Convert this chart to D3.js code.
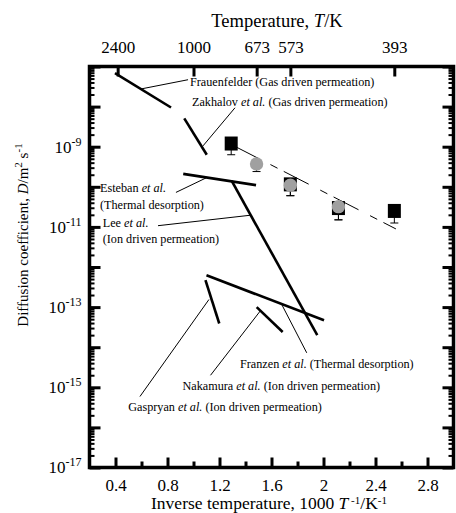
<!DOCTYPE html>
<html>
<head>
<meta charset="utf-8">
<script src="https://cdn.jsdelivr.net/npm/d3@7"></script>
<style>
  body { margin: 0; background: #fff; }
  svg text { font-family: "Liberation Serif", "DejaVu Serif", serif; fill: #000; }
</style>
</head>
<body>
<div id="chart"></div>
<script>
// literature lines, end points as [1000/T, D]
const lineNames = ["Frauenfelder", "Zakhalov", "Esteban", "Lee", "Franzen", "Gaspryan", "Nakamura"];
const lineX = [[0.396, 0.827], [0.929, 1.102], [0.921, 1.481], [1.294, 1.952], [1.100, 2.004], [1.092, 1.198], [1.486, 1.686]];
const lineD = [[6.8e-8, 9.5e-9], [5.1e-9, 6.3e-10], [2.1e-10, 1.1e-10], [1.4e-10, 2.0e-14], [6.2e-13, 4.7e-14], [4.7e-13, 3.9e-14], [1.0e-13, 2.4e-14]];

// this work: squares and circles, with lower error bound
const squareX = [1.29, 1.745, 2.115, 2.545];
const squareD = [1.2e-9, 1.15e-10, 2.95e-11, 2.5e-11];
const squareLo = [6.3e-10, 6.0e-11, 1.5e-11, 1.25e-11];
const circleX = [1.485, 1.745, 2.115];
const circleD = [3.7e-10, 1.1e-10, 3.2e-11];
const circleLo = [2.4e-10, 6.0e-11, 1.5e-11];

// dashed fit through the points
const fitX = [1.311, 2.557];
const fitD = [1.05e-9, 8.9e-12];

// axis ticks
const xMajor = [0.4, 0.8, 1.2, 1.6, 2, 2.4, 2.8];
const xMinor = [0.6, 1.0, 1.4, 1.8, 2.2, 2.6];
const tempTicks = [2400, 1000, 673, 573, 393];
const yExp = [-17, -16, -15, -14, -13, -12, -11, -10, -9, -8, -7];

// labels: text parts, anchor [x, log D], leader [x, log D] -> [x, log D]
const notes = [
  {lines: [[["Frauenfelder (Gas driven permeation)", 0]]], at: [0.973, -7.48], from: [0.596, -7.56], to: [0.958, -7.33]},
  {lines: [[["Zakhalov ", 0], ["et al.", 1], [" (Gas driven permeation)", 0]]], at: [0.988, -7.98], from: [1.073, -8.98], to: [1.319, -8.03]},
  {lines: [[["Esteban ", 0], ["et al.", 1]], [["(Thermal desorption)", 0]]], at: [0.281, -10.13], from: [0.865, -10.14], to: [1.096, -9.78]},
  {lines: [[["Lee ", 0], ["et al.", 1]], [["(Ion driven permeation)", 0]]], at: [0.302, -11.0], from: [0.727, -10.97], to: [1.435, -10.71]},
  {lines: [[["Franzen ", 0], ["et al.", 1], [" (Thermal desorption)", 0]]], at: [1.358, -14.51], from: [1.678, -12.93], to: [1.871, -14.14]},
  {lines: [[["Nakamura ", 0], ["et al.", 1], [" (Ion driven permeation)", 0]]], at: [0.915, -15.06], from: [1.131, -14.70], to: [1.515, -13.09]},
  {lines: [[["Gaspryan ", 0], ["et al.", 1], [" (Ion driven permeation)", 0]]], at: [0.498, -15.59], from: [0.588, -15.23], to: [1.119, -12.81]}
];

const width = 456, height = 513,
  margin = {top: 66.5, right: 2.5, bottom: 45.5, left: 89.5};

const svg = d3.select("#chart")
  .append("svg")
  .attr("width", width)
  .attr("height", height);

const x = d3.scaleLinear([0.2, 3.0], [margin.left, width - margin.right]);
const y = d3.scaleLog([1e-17, 1e-7], [height - margin.bottom, margin.top]);
const ly = v => y(Math.pow(10, v));

// minor log ticks
let yMinor = [];
yExp.slice(0, -1).forEach(e => { for (let k = 2; k <= 9; k++) yMinor.push(k * Math.pow(10, e)); });
const yMajor = yExp.map(e => Math.pow(10, e));

function styleTicks(g, w) {
  g.attr("font-family", null);
  g.select(".domain").remove();
  g.selectAll(".tick line").attr("stroke", "#000").attr("stroke-width", w);
}

// bottom axis
svg.append("g")
  .attr("transform", `translate(0,${height - margin.bottom})`)
  .call(d3.axisBottom(x).tickValues(xMinor).tickSize(-6).tickFormat(""))
  .call(g => styleTicks(g, 3));
svg.append("g")
  .attr("transform", `translate(0,${height - margin.bottom})`)
  .call(d3.axisBottom(x).tickValues(xMajor).tickSize(-10).tickPadding(11).tickFormat(d3.format("")))
  .call(g => styleTicks(g, 3))
  .call(g => g.selectAll(".tick text").attr("font-size", 17));

// top axis in temperature
svg.append("g")
  .attr("transform", `translate(0,${margin.top})`)
  .call(d3.axisTop(x).tickValues(tempTicks.map(t => 1000 / t)).tickSize(-10).tickPadding(14)
    .tickFormat((d, i) => tempTicks[i]))
  .call(g => styleTicks(g, 3))
  .call(g => g.selectAll(".tick text").attr("font-size", 17));

// left and right log axes
[[d3.axisLeft, margin.left], [d3.axisRight, width - margin.right]].forEach(([ax, pos], side) => {
  svg.append("g")
    .attr("transform", `translate(${pos},0)`)
    .call(ax(y).tickValues(yMinor).tickSize(-5).tickFormat(""))
    .call(g => styleTicks(g, 2));
  const gM = svg.append("g")
    .attr("transform", `translate(${pos},0)`)
    .call(ax(y).tickValues(yMajor).tickSize(-11).tickPadding(8).tickFormat(""))
    .call(g => styleTicks(g, 3));
  if (side === 0) {
    gM.selectAll(".tick text").each(function(d) {
      const e = Math.round(Math.log10(d));
      if (e % 2 === 0 || e === -7) return;
      const t = d3.select(this).attr("font-size", 17);
      t.append("tspan").text("10");
      t.append("tspan").attr("dy", -7).attr("font-size", 12).text(e);
    });
  }
});

// frame
svg.append("rect")
  .attr("x", margin.left)
  .attr("y", margin.top)
  .attr("width", width - margin.left - margin.right)
  .attr("height", height - margin.top - margin.bottom)
  .attr("fill", "none")
  .attr("stroke", "#000")
  .attr("stroke-width", 3.5);

// literature lines
svg.append("g")
  .selectAll("line")
  .data(lineNames)
  .join("line")
  .attr("x1", (d, i) => x(lineX[i][0]))
  .attr("y1", (d, i) => y(lineD[i][0]))
  .attr("x2", (d, i) => x(lineX[i][1]))
  .attr("y2", (d, i) => y(lineD[i][1]))
  .attr("stroke", "#000")
  .attr("stroke-width", 2.6);

// fit line
svg.append("line")
  .attr("x1", x(fitX[0])).attr("y1", y(fitD[0]))
  .attr("x2", x(fitX[1])).attr("y2", y(fitD[1]))
  .attr("stroke", "#000")
  .attr("stroke-width", 1)
  .attr("stroke-dasharray", "28,13,8,7");

// error bars
function errBars(xs, ds, lo) {
  const g = svg.append("g").attr("stroke", "#000").attr("stroke-width", 1);
  g.selectAll("line.v").data(xs).join("line")
    .attr("x1", d => x(d)).attr("x2", d => x(d))
    .attr("y1", (d, i) => y(ds[i])).attr("y2", (d, i) => y(lo[i]));
  g.selectAll("line.c").data(xs).join("line")
    .attr("x1", d => x(d) - 4).attr("x2", d => x(d) + 4)
    .attr("y1", (d, i) => y(lo[i])).attr("y2", (d, i) => y(lo[i]));
}
errBars(squareX, squareD, squareLo);
errBars(circleX, circleD, circleLo);

svg.append("g")
  .selectAll("rect")
  .data(squareX)
  .join("rect")
  .attr("x", d => x(d) - 6.5)
  .attr("y", (d, i) => y(squareD[i]) - 7)
  .attr("width", 13)
  .attr("height", 14)
  .attr("fill", "#000");

svg.append("g")
  .selectAll("circle")
  .data(circleX)
  .join("circle")
  .attr("cx", d => x(d))
  .attr("cy", (d, i) => y(circleD[i]))
  .attr("r", 6.7)
  .attr("fill", "#a0a0a0");

// annotations
const ann = svg.append("g");
notes.forEach(n => {
  ann.append("line")
    .attr("x1", x(n.from[0])).attr("y1", ly(n.from[1]))
    .attr("x2", x(n.to[0])).attr("y2", ly(n.to[1]))
    .attr("stroke", "#000").attr("stroke-width", 1);
  n.lines.forEach((parts, j) => {
    const t = ann.append("text")
      .attr("x", x(n.at[0]))
      .attr("y", ly(n.at[1]) + j * 16.5)
      .attr("font-size", 12.2);
    parts.forEach(p => t.append("tspan").attr("font-style", p[1] ? "italic" : null).text(p[0]));
  });
});

// axis titles
const xt = svg.append("text")
  .attr("x", 269).attr("y", 509)
  .attr("text-anchor", "middle")
  .attr("font-size", 17.5);
xt.append("tspan").text("Inverse temperature, 1000 ");
xt.append("tspan").attr("font-style", "italic").text("T");
xt.append("tspan").attr("dy", -5).attr("font-size", 11).text(" -1");
xt.append("tspan").attr("dy", 5).text("/K");
xt.append("tspan").attr("dy", -5).attr("font-size", 11).text("-1");

const tt = svg.append("text")
  .attr("x", 277).attr("y", 27)
  .attr("text-anchor", "middle")
  .attr("font-size", 18.5);
tt.append("tspan").text("Temperature, ");
tt.append("tspan").attr("font-style", "italic").text("T");
tt.append("tspan").text("/K");

const yt = svg.append("text")
  .attr("transform", "translate(28,235) rotate(-90)")
  .attr("text-anchor", "middle")
  .attr("font-size", 15);
yt.append("tspan").text("Diffusion coefficient, ");
yt.append("tspan").attr("font-style", "italic").text("D");
yt.append("tspan").text("/m");
yt.append("tspan").attr("dy", -6).attr("font-size", 11).text("2");
yt.append("tspan").attr("dy", 6).text(" s");
yt.append("tspan").attr("dy", -6).attr("font-size", 11).text("-1");
</script>
</body>
</html>
